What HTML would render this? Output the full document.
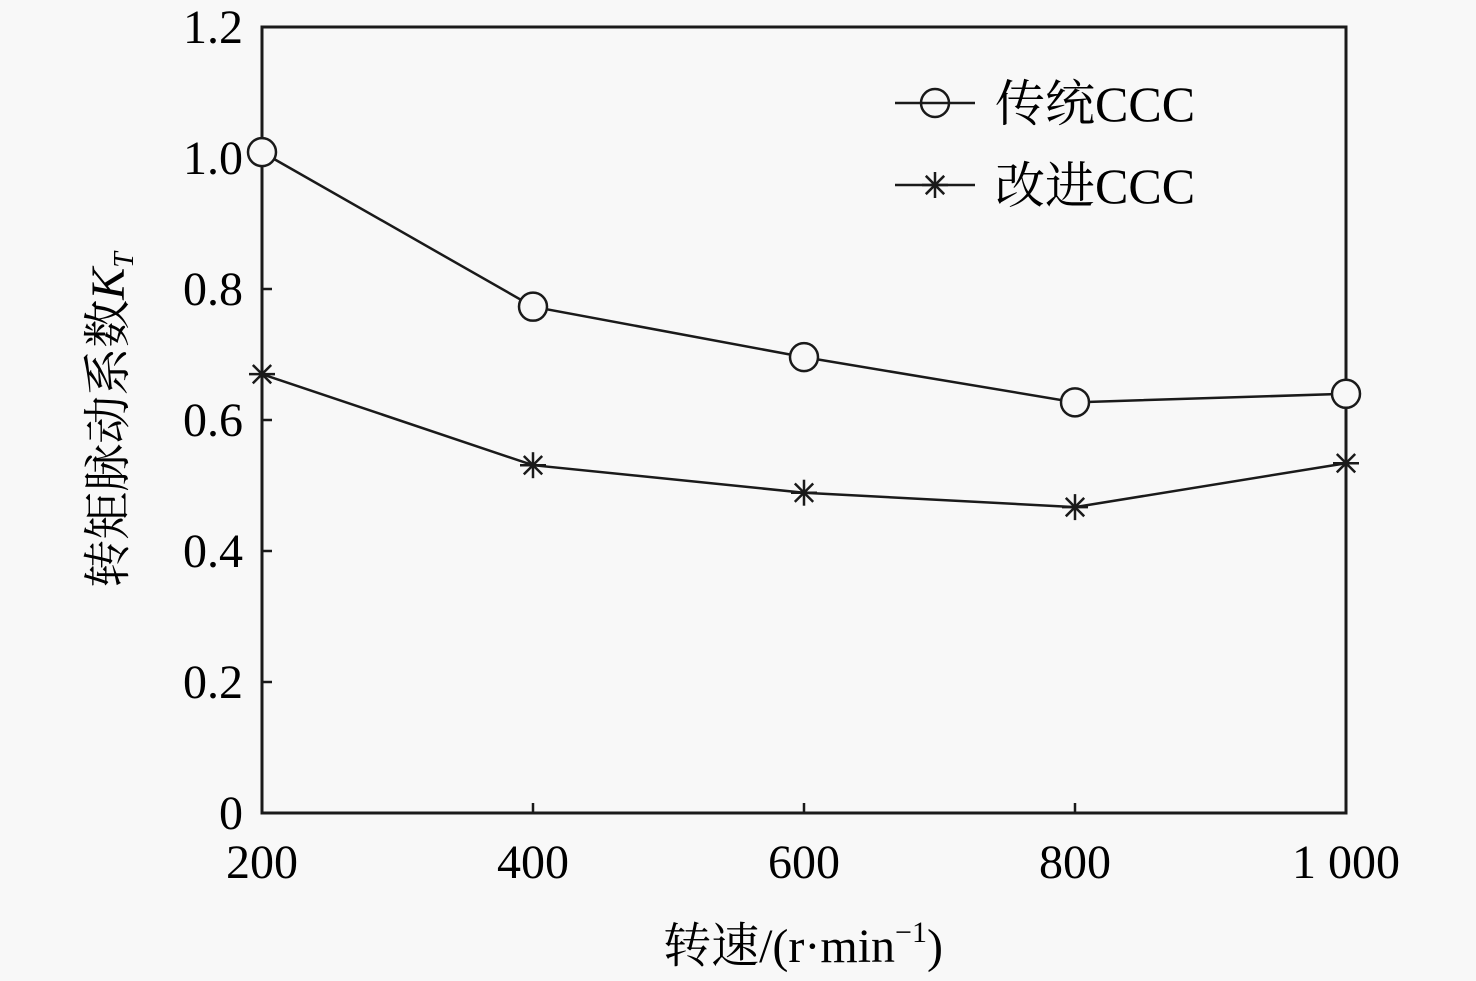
<!DOCTYPE html>
<html><head><meta charset="utf-8"><style>
body{margin:0;background:#f8f8f8;}
svg{display:block;font-family:"Liberation Serif","Noto Serif CJK SC",serif;}
</style></head><body>
<svg id="c" width="1476" height="981">
<rect x="0" y="0" width="1476" height="981" fill="#f8f8f8"/>
<rect x="262" y="27" width="1084" height="786" fill="none" stroke="#1a1a1a" stroke-width="3"/>
<g id="ax"></g><g id="ser"></g>
<text x="803" y="962" font-size="48" text-anchor="middle">转速/(r·min<tspan font-size="30" dy="-20">−1</tspan><tspan dy="20">)</tspan></text>
<text transform="translate(124,420) rotate(-90)" font-size="48" text-anchor="middle">转矩脉动系数<tspan font-style="italic">K</tspan><tspan font-style="italic" font-size="28" dy="9">T</tspan></text>
<g>
<line x1="895" y1="103" x2="975" y2="103" stroke="#1a1a1a" stroke-width="2.5"/>
<circle cx="935" cy="103" r="14" fill="none" stroke="#1a1a1a" stroke-width="2.5"/>
<text x="995" y="121" font-size="50">传统CCC</text>
<line x1="895" y1="185" x2="975" y2="185" stroke="#1a1a1a" stroke-width="2.5"/>
<g id="legstar"></g>
<text x="995" y="203" font-size="50">改进CCC</text>
</g>
</svg>
<script>
const categories=[200,400,600,800,1000];
const xTickLabels=["200","400","600","800","1 000"];
const traditional=[1.009,0.773,0.696,0.627,0.640];
const improved=[0.670,0.531,0.489,0.467,0.534];
const yTicks=[0,0.2,0.4,0.6,0.8,1.0,1.2];
const yTickLabels=["0","0.2","0.4","0.6","0.8","1.0","1.2"];
const NS="http://www.w3.org/2000/svg";
const X=v=>262+(v-200)/800*1084;
const Y=v=>813-v/1.2*786;
function mk(t,a,p){const e=document.createElementNS(NS,t);for(const k in a)e.setAttribute(k,a[k]);p.appendChild(e);return e;}
const ax=document.getElementById('ax');
yTicks.forEach((v,i)=>{
 const l=mk('line',{x1:262,x2:272,y1:Y(v),y2:Y(v),stroke:'#1a1a1a','stroke-width':2.5},ax);
 
 
 const t=mk('text',{x:243,y:Y(v)+16,'font-size':48,'text-anchor':'end'},ax);t.textContent=yTickLabels[i];
 
 
});
categories.forEach((v,i)=>{
 const l=mk('line',{x1:X(v),x2:X(v),y1:813,y2:803,stroke:'#1a1a1a','stroke-width':2.5},ax);
 
 
 const t=mk('text',{x:X(v)+(i==4?0:0),y:878,'font-size':48,'text-anchor':'middle'},ax);t.textContent=xTickLabels[i];
 
 
});
const ser=document.getElementById('ser');
function star(cx,cy,p){const g=mk('g',{stroke:'#1a1a1a','stroke-width':2.5},p);const r=13;
 for(let k=0;k<4;k++){const a=k*Math.PI/4;mk('line',{x1:cx-r*Math.sin(a),y1:cy-r*Math.cos(a),x2:cx+r*Math.sin(a),y2:cy+r*Math.cos(a)},g);}return g;}
const p1=mk('polyline',{points:categories.map((c,i)=>X(c)+','+Y(traditional[i])).join(' '),fill:'none',stroke:'#1a1a1a','stroke-width':2.5},ser);


const p2=mk('polyline',{points:categories.map((c,i)=>X(c)+','+Y(improved[i])).join(' '),fill:'none',stroke:'#1a1a1a','stroke-width':2.5},ser);


categories.forEach((c,i)=>{
 const m=mk('circle',{cx:X(c),cy:Y(traditional[i]),r:14,fill:'#f8f8f8',stroke:'#1a1a1a','stroke-width':2.5},ser);
 
 
 const s=star(X(c),Y(improved[i]),ser);
 
 
});
star(935,185,document.getElementById('legstar'));
</script>
</body></html>
